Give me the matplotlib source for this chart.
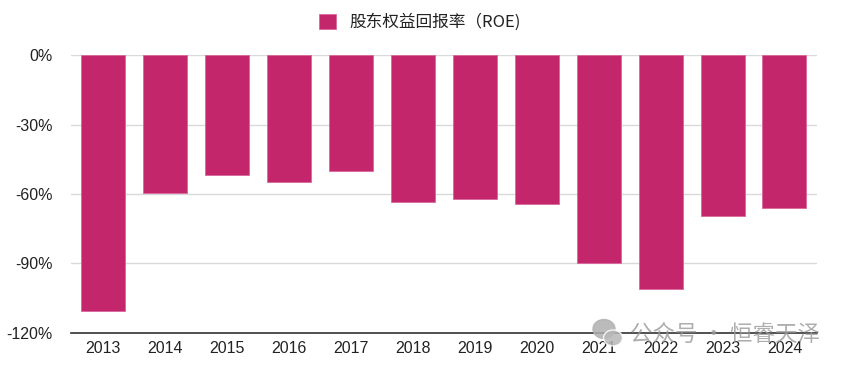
import matplotlib.pyplot as plt
from matplotlib.ticker import FuncFormatter
from matplotlib.patches import Ellipse
from matplotlib.transforms import IdentityTransform

plt.rcParams['font.family'] = ['Liberation Sans', 'Noto Sans CJK SC', 'DejaVu Sans']

years = ['2013', '2014', '2015', '2016', '2017', '2018',
         '2019', '2020', '2021', '2022', '2023', '2024']
roe = [-110.5, -59.4, -51.9, -54.9, -50.0, -63.4,
       -62.1, -64.3, -90.0, -100.9, -69.5, -66.1]
series_name = '股东权益回报率（ROE)'
yticks = [0, -30, -60, -90, -120]

fig = plt.figure(figsize=(8.45, 3.69), dpi=100)
ax = fig.add_axes([0.0837, 0.0984, 0.8828, 0.7512])

x = range(len(years))
ax.bar(x, roe, width=0.71, color='#C3266B', edgecolor='#D9679A',
       linewidth=0.6, label=series_name, zorder=3)

ax.set_xlim(-0.52, 11.52)
ax.set_ylim(-120, 0)
ax.set_yticks(yticks)
ax.yaxis.set_major_formatter(FuncFormatter(lambda v, p: f'{v:.0f}%'))
ax.set_xticks(list(x))
ax.set_xticklabels(years)
ax.tick_params(length=0, labelsize=11.5, colors='#222222')
ax.tick_params(axis='y', pad=13)
ax.tick_params(axis='x', pad=6)
ax.grid(axis='y', color='#d9d9d9', linewidth=1, zorder=0)

for s in ['top', 'right', 'left']:
    ax.spines[s].set_visible(False)
ax.spines['bottom'].set_position(('data', -120))
ax.spines['bottom'].set_color('#333333')
ax.spines['bottom'].set_linewidth(1.2)
ax.spines['bottom'].set_zorder(4)

leg = fig.legend(loc='center', bbox_to_anchor=(0.497, 0.94), frameon=False,
                 handlelength=1.0, handleheight=1.0, handletextpad=0.8,
                 prop={'family': ['Noto Sans CJK SC', 'DejaVu Sans'], 'size': 12})
for t in leg.get_texts():
    t.set_color('#222222')

# watermark (wechat icon + account name)
H = 369
fig.add_artist(Ellipse((604, H - 329), 22, 19, color='#b0b0b0', alpha=0.85,
                       transform=IdentityTransform(), zorder=5))
fig.add_artist(Ellipse((613, H - 338), 19, 16, color='#b8b8b8', alpha=0.85,
                       ec='white', lw=1, transform=IdentityTransform(), zorder=5))
fig.text(0.745, 0.095, '公众号 · 恒睿天泽', fontsize=16.2, color='#9a9a9a', alpha=0.8,
         family=['Noto Sans CJK SC', 'DejaVu Sans'], va='center', ha='left', zorder=5)

fig.savefig('out.png', dpi=100)
